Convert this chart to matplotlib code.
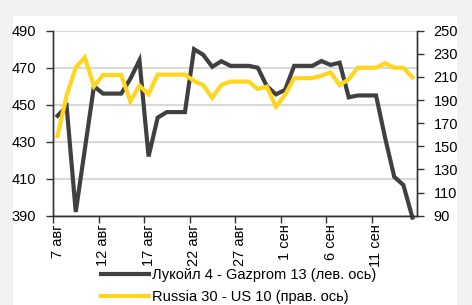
import matplotlib
matplotlib.use("Agg")
import matplotlib.pyplot as plt
from matplotlib.patches import Rectangle

plt.rcParams['font.family'] = ['Liberation Sans', 'DejaVu Sans']

# дневные точки с 7 авг по 15 сен
tick_labels = ["7 авг", "12 авг", "17 авг", "22 авг", "27 авг", "1 сен", "6 сен", "11 сен"]

lukoil_gazprom = [444, 449, 392, 426, 460, 456, 456, 456, 464, 474,
                  422, 443, 446, 446, 446, 480, 477, 470.5, 473.5, 471,
                  471, 471, 470, 460, 455.6, 458, 471, 471, 471, 473.6,
                  471.5, 472.7, 454, 455, 455, 455, 432, 411, 406.6, 389]
russia_us = [159, 194, 218, 227, 202, 211.7, 211.7, 211.7, 189, 202.5,
             195, 212, 212, 212, 212, 206.5, 203, 192, 203, 206,
             206, 206, 199.6, 201.6, 184.3, 194.4, 208.8, 209, 209, 211,
             214, 203, 208, 218, 218, 218, 221.8, 218, 218, 209.7]

name_black = "Лукойл 4 - Gazprom 13 (лев. ось)"
name_yellow = "Russia 30 - US 10 (прав. ось)"

x = list(range(len(lukoil_gazprom)))

fig = plt.figure(figsize=(4.72, 3.05), dpi=100)
fig.patch.set_facecolor('#f2f2f2')
# белая подложка под графиком
fig.patches.append(Rectangle((13 / 472, 0), 444 / 472, 289 / 305,
                             transform=fig.transFigure, facecolor='white',
                             edgecolor='none', zorder=-5))

ax = fig.add_axes([53 / 472, (305 - 215.7) / 305, 364 / 472, 185 / 305])
ax.set_facecolor('none')
ax2 = ax.twinx()

grey = '#404040'
yellow = '#ffd51e'

l1, = ax.plot(x, lukoil_gazprom, color=grey, lw=3, solid_joinstyle='miter', clip_on=False, zorder=3)
l2, = ax2.plot(x, russia_us, color=yellow, lw=3, solid_joinstyle='miter', zorder=4)

ax.set_xlim(-0.5, len(x) - 0.5)
ax.set_ylim(390, 490)
ax2.set_ylim(90, 250)
ax.set_yticks(range(390, 491, 20))
ax2.set_yticks(range(90, 251, 20))

ax.grid(axis='y', color='#d9d9d9', lw=1.5)
ax.set_axisbelow(True)

# границы категорий — большие деления, подписи по центру дня
ax.set_xticks([i - 0.5 for i in range(0, len(x), 5)])
ax.set_xticklabels([])
ax.set_xticks(list(range(0, len(x), 5)), minor=True)
ax.set_xticklabels(tick_labels, minor=True, rotation=90, fontsize=10.5, va='top')
ax.tick_params(axis='x', which='minor', length=0, pad=6)
ax.tick_params(axis='x', which='major', length=5, width=1, color='#333333', direction='out')

ax.tick_params(axis='y', length=5, width=1, color='#333333', labelsize=10.5, pad=7)
ax2.tick_params(axis='y', length=5, width=1, color='#333333', labelsize=10.5, pad=7)

for a in (ax, ax2):
    a.spines['top'].set_visible(False)
    for s in ('left', 'right', 'bottom'):
        a.spines[s].set_color('#333333')
        a.spines[s].set_linewidth(1)

fig.legend([l1, l2], [name_black, name_yellow], loc='upper left',
           bbox_to_anchor=(94 / 472, 1 - 261 / 305), frameon=False,
           fontsize=10.5, handlelength=3.3, handletextpad=0.15,
           labelspacing=0.55, borderpad=0)

fig.savefig("out.png", dpi=100, facecolor=fig.get_facecolor())
